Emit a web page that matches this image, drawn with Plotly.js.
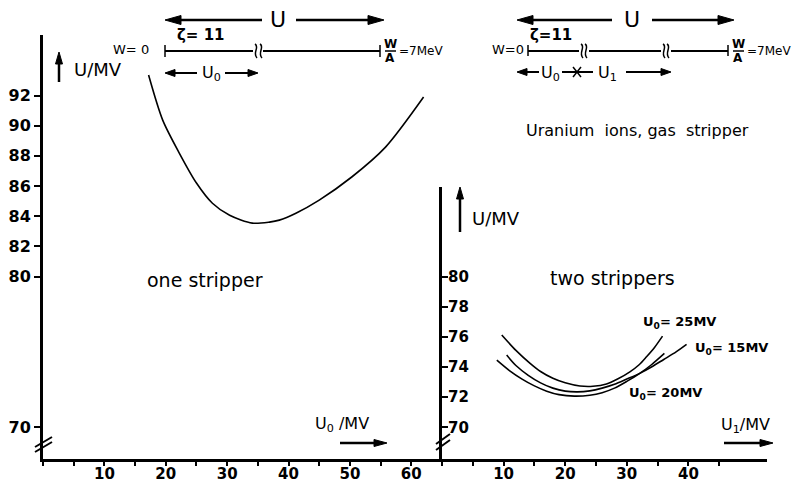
<!DOCTYPE html>
<html><head><meta charset="utf-8">
<script src="https://cdn.plot.ly/plotly-3.0.1.min.js"></script>
<style>body{margin:0;background:#fff}</style>
</head><body>
<div id="chart" style="width:807px;height:487px"></div>
<script>
// ---- data ----
const oneStripperU0 = [17.2, 19.5, 22.2, 25.0, 27.6, 30.4, 34.1, 36.9, 38.5, 41.2, 45.0, 50.3, 55.8, 62.0];
const oneStripperU  = [93.36, 90.37, 88.19, 86.2, 84.86, 84.06, 83.54, 83.61, 83.74, 84.2, 85.07, 86.6, 88.58, 91.9];

const u1_U0_25 = [9.7, 12, 14.3, 16, 18, 20, 22.4, 24.5, 26.7, 28.5, 30.5, 32, 33.2, 34.5, 35.8];
const u_U0_25  = [76.12, 75.1, 74.24, 73.7, 73.25, 72.95, 72.74, 72.72, 72.87, 73.2, 73.68, 74.15, 74.68, 75.3, 76.05];

const u1_U0_15 = [10.5, 12, 14, 16, 18, 20, 22, 24, 26, 28, 30, 32.1, 34, 36, 38, 39.7];
const u_U0_15  = [74.79, 74.1, 73.45, 72.95, 72.6, 72.4, 72.35, 72.42, 72.6, 72.85, 73.2, 73.58, 74.0, 74.5, 75.0, 75.5];

const u1_U0_20 = [8.9, 11, 13, 15, 17, 19, 21.5, 24, 26, 28, 30, 32.1, 34, 36.1];
const u_U0_20  = [74.46, 73.75, 73.2, 72.75, 72.4, 72.17, 72.07, 72.13, 72.3, 72.6, 73.05, 73.58, 74.15, 74.9];

const xMajorLeft  = [10, 20, 30, 40, 50, 60];
const xMinorLeft  = [0, 5, 15, 25, 35, 45, 55, 65];
const xMajorRight = [10, 20, 30, 40];
const xMinorRight = [0, 5, 15, 25, 35, 45];
const yTicksLeft  = [70, 80, 82, 84, 86, 88, 90, 92];
const yTicksRight = [70, 72, 74, 76, 78, 80];

// ---- geometry helpers (pixel -> paper) ----
const L = 43, R = 767, T = 35, B = 459;
const PX = x => (x - L) / (R - L);
const PY = y => (B - y) / (B - T);
const shapes = [];
const ann = [];
const FONT = 'DejaVu Sans';
function line(x1, y1, x2, y2, w) {
  shapes.push({type: 'line', xref: 'paper', yref: 'paper', x0: PX(x1), y0: PY(y1), x1: PX(x2), y1: PY(y2),
    line: {color: 'black', width: w || 2}});
}
function head(tx, ty, dx, dy, len, hw) {
  const bx = tx - dx * len, by = ty - dy * len;
  const px = -dy, py = dx;
  const p = `M ${PX(tx)},${PY(ty)} L ${PX(bx + px * hw)},${PY(by + py * hw)} L ${PX(bx - px * hw)},${PY(by - py * hw)} Z`;
  shapes.push({type: 'path', xref: 'paper', yref: 'paper', path: p, fillcolor: 'black', line: {color: 'black', width: 1}});
}
function squiggle(x, y) {
  const p = `M ${PX(x - 1)},${PY(y - 7)} C ${PX(x + 4)},${PY(y - 4)} ${PX(x - 4)},${PY(y + 2)} ${PX(x + 1)},${PY(y + 7)}`;
  shapes.push({type: 'path', xref: 'paper', yref: 'paper', path: p, line: {color: 'black', width: 1.5}});
}
function text(t, x, y, size, xanchor, weight) {
  ann.push({text: t, xref: 'paper', yref: 'paper', x: PX(x), y: PY(y), showarrow: false,
    xanchor: xanchor || 'center', yanchor: 'middle',
    font: {size: size, color: 'black', family: FONT, weight: weight || 'normal'}});
}

// ---- left schematic ----
line(176, 20, 262, 20, 2.5); head(165, 20, -1, 0, 16, 4.5);
line(296, 20, 372, 20, 2.5); head(384, 20, 1, 0, 16, 4.5);
text('U', 278, 20, 22);
text('ζ= 11', 201, 35, 15, 'center', 'bold');
text('W= 0', 131, 50, 13);
line(165, 45, 165, 57, 1.5); line(165, 51, 253, 51, 2); squiggle(256, 51); squiggle(261, 51);
line(263, 51, 380, 51, 2); line(380, 45, 380, 57, 1.5);
text('W', 390, 44, 12, 'center', 'bold'); line(385, 51, 396, 51, 1.5); text('A', 390, 58, 12, 'center', 'bold');
text('=7MeV', 397, 51, 12, 'left');
line(172, 73, 197, 73, 2); head(165, 73, -1, 0, 10, 3.5);
text('U<sub>0</sub>', 211, 74, 16);
line(225, 73, 250, 73, 2); head(258, 73, 1, 0, 10, 3.5);
// y-axis label left
line(59, 82, 59, 62, 2.5); head(59, 52, 0, -1, 12, 3.5);
text('U/MV', 98, 70, 18);

// ---- right schematic ----
line(528, 20, 612, 20, 2.5); head(517, 20, -1, 0, 16, 4.5);
line(652, 20, 722, 20, 2.5); head(734, 20, 1, 0, 16, 4.5);
text('U', 632, 20, 22);
text('ζ=11', 551, 35, 15, 'center', 'bold');
text('W=0', 526, 50, 13, 'right');
line(528, 45, 528, 56, 1.5); line(528, 51, 579, 51, 2); squiggle(582, 51); squiggle(586, 51);
line(589, 51, 661, 51, 2); squiggle(664, 51); squiggle(668, 51);
line(671, 51, 728, 51, 2); line(728, 45, 728, 56, 1.5);
text('W', 738, 44, 12, 'center', 'bold'); line(733, 51, 744, 51, 1.5); text('A', 738, 58, 12, 'center', 'bold');
text('=7MeV', 745, 51, 12, 'left');
line(525, 72, 539, 72, 2); head(517, 72, -1, 0, 10, 3.5);
text('U<sub>0</sub>', 550, 73, 16);
line(562, 72, 593, 72, 2); line(573, 67, 581, 77, 1.5); line(573, 77, 581, 67, 1.5);
text('U<sub>1</sub>', 607, 73, 16);
line(626, 72, 661, 72, 2); head(671, 72, 1, 0, 10, 3.5);
text('Uranium  ions, gas  stripper', 637, 130, 16);

// ---- panel texts ----
text('one stripper', 205, 280, 19);
text('two strippers', 612, 278, 19);
text('U<sub>0</sub>= 25MV', 679, 322, 13, 'center', 'bold');
text('U<sub>0</sub>= 15MV', 693, 348, 13, 'left', 'bold');
text('U<sub>0</sub>= 20MV', 627, 393, 13, 'left', 'bold');
// right y label
line(460, 232, 460, 198, 2.5); head(460, 187, 0, -1, 12, 3.5);
text('U/MV', 496, 218, 18);
// x axis titles
text('U<sub>0</sub> /MV', 342, 424, 16);
line(340, 443, 376, 443, 2.5); head(387, 443, 1, 0, 13, 3.5);
text('U<sub>1</sub>/MV', 745, 425, 16);
line(724, 443, 762, 443, 2.5); head(773, 443, 1, 0, 13, 3.5);
// axis breaks
line(35, 447, 52, 437, 2); line(35, 452, 52, 442, 2);
line(436, 444, 450, 434, 2); line(436, 450, 450, 440, 2);

// ---- traces ----
const lw = 1.6;
const traces = [
  {x: oneStripperU0, y: oneStripperU, xaxis: 'x', yaxis: 'y', mode: 'lines', line: {color: 'black', width: lw, shape: 'spline', smoothing: 0.8}},
  {x: u1_U0_25, y: u_U0_25, xaxis: 'x2', yaxis: 'y2', mode: 'lines', line: {color: 'black', width: lw, shape: 'spline', smoothing: 0.8}},
  {x: u1_U0_15, y: u_U0_15, xaxis: 'x2', yaxis: 'y2', mode: 'lines', line: {color: 'black', width: lw, shape: 'spline', smoothing: 0.8}},
  {x: u1_U0_20, y: u_U0_20, xaxis: 'x2', yaxis: 'y2', mode: 'lines', line: {color: 'black', width: lw, shape: 'spline', smoothing: 0.8}}
];

const split = (442 - L) / (R - L);
const yMin = 67.9, pxPerU = 15.08;
const tickFont = {family: FONT, size: 15, color: 'black', weight: 'bold'};
const axCommon = {showline: true, linecolor: 'black', linewidth: 3, showgrid: false, zeroline: false,
  tickcolor: 'black', tickwidth: 2, tickmode: 'array', tickfont: tickFont};
const layout = {
  width: 807, height: 487, showlegend: false,
  margin: {l: L, r: 807 - R, t: T, b: 487 - B},
  paper_bgcolor: 'white', plot_bgcolor: 'white',
  xaxis: Object.assign({}, axCommon, {domain: [0, split], range: [0, 65], anchor: 'y',
    tickvals: xMajorLeft, ticks: 'outside', ticklen: 4, ticklabelstandoff: -5,
    minor: {tickmode: 'array', tickvals: xMinorLeft, ticks: 'outside', ticklen: 4, tickwidth: 2, tickcolor: 'black'}}),
  xaxis2: Object.assign({}, axCommon, {domain: [split, 1], range: [0, (R - 442) / 6.16], anchor: 'y',
    tickvals: xMajorRight, ticks: 'outside', ticklen: 4, ticklabelstandoff: -5,
    minor: {tickmode: 'array', tickvals: xMinorRight, ticks: 'outside', ticklen: 4, tickwidth: 2, tickcolor: 'black'}}),
  yaxis: Object.assign({}, axCommon, {domain: [0, 1], range: [yMin, yMin + (B - T) / pxPerU], anchor: 'x',
    tickvals: yTicksLeft, ticks: 'outside', ticklen: 6, tickfont: {family: FONT, size: 16, color: 'black', weight: 'bold'}}),
  yaxis2: Object.assign({}, axCommon, {domain: [0, (B - 187) / (B - T)], range: [yMin, yMin + (B - 187) / pxPerU], anchor: 'x2',
    tickvals: yTicksRight, ticks: 'inside', ticklen: 6, ticklabelposition: 'inside'}),
  shapes: shapes,
  annotations: ann
};
Plotly.newPlot('chart', traces, layout, {displayModeBar: false, staticPlot: true});
</script>
</body></html>
